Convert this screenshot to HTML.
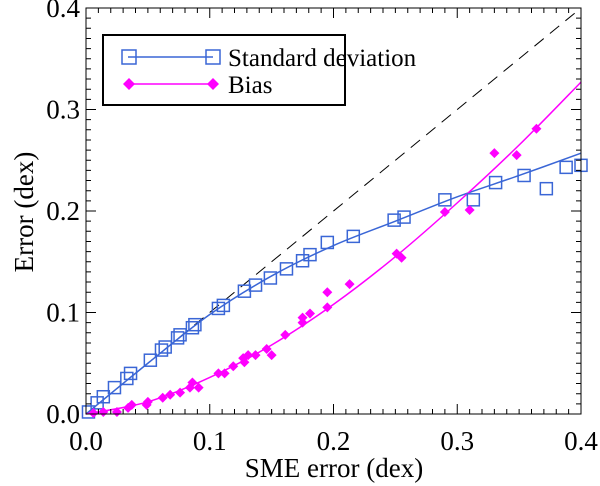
<!DOCTYPE html>
<html><head><meta charset="utf-8"><style>
body{margin:0;background:#fff}
svg{display:block}
svg text{font-family:"Liberation Serif","DejaVu Serif",serif}
</style></head><body>
<svg id="chart" width="600" height="486" viewBox="0 0 600 486" xmlns="http://www.w3.org/2000/svg" font-family="Liberation Serif, DejaVu Serif, serif"></svg>
<script>
const xTicks=[0,0.1,0.2,0.3,0.4];
const yTicks=[0,0.1,0.2,0.3,0.4];
const tickLabels=["0.0","0.1","0.2","0.3","0.4"];
const stdX=[0.002,0.009,0.014,0.023,0.033,0.036,0.052,0.061,0.064,0.074,0.076,0.086,0.088,0.107,0.111,0.128,0.137,0.149,0.162,0.175,0.181,0.195,0.216,0.249,0.257,0.29,0.313,0.331,0.354,0.372,0.388,0.4];
const stdY=[0.002,0.011,0.017,0.026,0.035,0.040,0.053,0.063,0.066,0.075,0.078,0.085,0.088,0.104,0.107,0.121,0.127,0.134,0.143,0.151,0.157,0.169,0.175,0.191,0.194,0.211,0.211,0.228,0.235,0.222,0.243,0.245];
const biasX=[0.006,0.014,0.025,0.034,0.037,0.049,0.050,0.062,0.068,0.076,0.084,0.086,0.091,0.107,0.112,0.119,0.128,0.127,0.131,0.137,0.146,0.150,0.161,0.175,0.175,0.181,0.195,0.195,0.213,0.251,0.255,0.290,0.310,0.330,0.348,0.364];
const biasY=[0.001,0.002,0.002,0.006,0.009,0.009,0.012,0.016,0.019,0.021,0.026,0.031,0.026,0.040,0.040,0.047,0.051,0.055,0.058,0.058,0.064,0.058,0.078,0.090,0.095,0.099,0.105,0.120,0.128,0.158,0.154,0.199,0.201,0.257,0.255,0.281];
const stdFitX=[0,0.05,0.1,0.15,0.2,0.25,0.3,0.35,0.4];
const stdFitY=[0,0.05,0.098,0.136,0.166,0.19,0.214,0.235,0.257];
const biasFitX=[0,0.05,0.1,0.15,0.2,0.25,0.3,0.35,0.4];
const biasFitY=[0,0.012,0.036,0.068,0.108,0.155,0.208,0.265,0.327];

const L=86,R=581,B=414,T=8;
const sx=v=>L+(v-0)/0.4*(R-L);
const sy=v=>B-(v-0)/0.4*(B-T);
const svg=document.getElementById('chart');
const NS='http://www.w3.org/2000/svg';
const FF='Liberation Serif, DejaVu Serif, serif';
function mk(tag,attrs,parent){const e=document.createElementNS(NS,tag);for(const k in attrs)e.setAttribute(k,attrs[k]);if(tag==='text')e.setAttribute('font-family',FF);(parent||svg).appendChild(e);return e;}

const dl=mk('line',{x1:sx(0),y1:sy(0),x2:sx(0.4),y2:sy(0.4),stroke:'#000','stroke-width':1,'stroke-dasharray':'12,8'});



function smooth(xs,ys){let d='M'+sx(xs[0])+','+sy(ys[0]);for(let i=0;i<xs.length-1;i++){const x0=sx(xs[Math.max(i-1,0)]),y0=sy(ys[Math.max(i-1,0)]),x1=sx(xs[i]),y1=sy(ys[i]),x2=sx(xs[i+1]),y2=sy(ys[i+1]),x3=sx(xs[Math.min(i+2,xs.length-1)]),y3=sy(ys[Math.min(i+2,xs.length-1)]);d+=` C${x1+(x2-x0)/6},${y1+(y2-y0)/6} ${x2-(x3-x1)/6},${y2-(y3-y1)/6} ${x2},${y2}`;}return d;}

const sf=mk('path',{d:smooth(stdFitX,stdFitY),fill:'none',stroke:'#3a66d6','stroke-width':1.5});


const bf=mk('path',{d:smooth(biasFitX,biasFitY),fill:'none',stroke:'#ff00ff','stroke-width':1.5});



stdX.forEach((x,i)=>{const r=mk('rect',{x:sx(x)-6,y:sy(stdY[i])-6,width:12,height:12,fill:'none',stroke:'#3a66d6','stroke-width':1.5});

});
biasX.forEach((x,i)=>{const cx=sx(x),cy=sy(biasY[i]);const p=mk('polygon',{points:`${cx},${cy-5} ${cx+5},${cy} ${cx},${cy+5} ${cx-5},${cy}`,fill:'#ff00ff'});

});

const fr=mk('rect',{x:L,y:T,width:R-L,height:B-T,fill:'none',stroke:'#000','stroke-width':1});


let tk='';
for(let i=0;i<=40;i++){const v=i*0.01;const len=i%10==0?10:5;const x=sx(v),y=sy(v);
tk+=`M${x},${B}v${-len}M${x},${T}v${len}M${L},${y}h${len}M${R},${y}h${-len}`;}
const tp=mk('path',{d:tk,stroke:'#000','stroke-width':1,fill:'none'});


xTicks.forEach((v,i)=>{const t=mk('text',{x:sx(v),y:450,'font-size':27,'text-anchor':'middle'});t.textContent=tickLabels[i];

});
yTicks.forEach((v,i)=>{const t=mk('text',{x:80,y:sy(v)+9,'font-size':27,'text-anchor':'end'});t.textContent=tickLabels[i];

});
const xt=mk('text',{x:334,y:477,'font-size':27,'text-anchor':'middle'});xt.textContent='SME error (dex)';


const yt=mk('text',{x:0,y:0,'font-size':27,'text-anchor':'middle',transform:'translate(33,212) rotate(-90)'});yt.textContent='Error (dex)';



const lg=mk('g',{});


mk('rect',{x:103,y:35,width:242,height:70,fill:'#fff',stroke:'#000','stroke-width':2},lg);
mk('line',{x1:128,y1:57,x2:213,y2:57,stroke:'#3a66d6','stroke-width':1.5},lg);
mk('rect',{x:122,y:50,width:14,height:14,fill:'none',stroke:'#3a66d6','stroke-width':1.5},lg);
mk('rect',{x:206,y:50,width:14,height:14,fill:'none',stroke:'#3a66d6','stroke-width':1.5},lg);
const l1=mk('text',{x:228,y:66,'font-size':25},lg);l1.textContent='Standard deviation';


mk('line',{x1:129,y1:84,x2:213,y2:84,stroke:'#ff00ff','stroke-width':1.5},lg);
mk('polygon',{points:'129,78 135,84 129,90 123,84',fill:'#ff00ff'},lg);
mk('polygon',{points:'213,78 219,84 213,90 207,84',fill:'#ff00ff'},lg);
const l2=mk('text',{x:228,y:93,'font-size':25},lg);l2.textContent='Bias';


</script>
</body></html>
